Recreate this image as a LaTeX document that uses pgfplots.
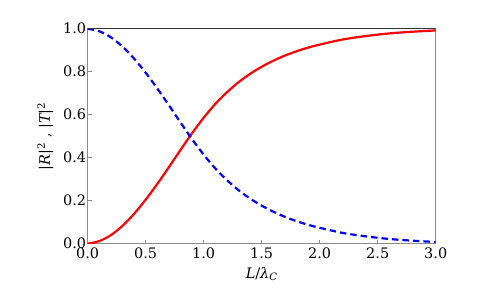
\documentclass[border=0pt]{standalone}
\usepackage{fontspec}
\setmainfont{DejaVu Serif}
\usepackage{pgfplots}
\pgfplotsset{compat=1.18}
\begin{document}
\begin{tikzpicture}[x=1bp,y=1bp]
\begin{axis}[
  at={(0,0)}, anchor=south west,
  scale only axis, width=348bp, height=215bp,
  xmin=0, xmax=3, ymin=0, ymax=1,
  xtick={0,0.5,...,3}, ytick={0,0.2,...,1},
  /pgf/number format/assume math mode=true,
  /pgf/number format/.cd, fixed, fixed zerofill, precision=1, /pgfplots/.cd,
  tick label style={font=\fontsize{14.5}{16}\selectfont},
  xticklabel style={yshift=-1bp},
  yticklabel style={xshift=2bp},
  tick align=inside, xtick pos=left, ytick pos=left,
  major tick length=4bp,
  tick style={draw=black!45, line width=0.8bp},
  axis line style={draw=black!45, line width=1bp},
  xlabel={{\itshape L}/{\itshape λ}\textsubscript{\itshape C}},
  ylabel={|{\itshape R}|\textsuperscript{2} , |{\itshape T}|\textsuperscript{2}},
  label style={font=\fontsize{14.5}{16}\selectfont},
  xlabel style={yshift=-1bp},
  ylabel style={yshift=3bp},
]
\addplot[red, line width=2.2bp, smooth, tension=0.5] coordinates {
(0.0,0.000) (0.1,0.012) (0.2,0.040) (0.3,0.083) (0.4,0.139) (0.5,0.205)
(0.6,0.278) (0.7,0.356) (0.8,0.436) (0.9,0.514) (1.0,0.586) (1.1,0.650)
(1.2,0.704) (1.3,0.751) (1.4,0.790) (1.5,0.823) (1.6,0.851) (1.7,0.875)
(1.8,0.895) (1.9,0.912) (2.0,0.926) (2.2,0.950) (2.4,0.966) (2.6,0.978)
(2.8,0.986) (3.0,0.992)
};
\addplot[blue, line width=2.2bp, dash pattern=on 6.5bp off 4bp, smooth, tension=0.5] coordinates {
(0.0,1.000) (0.1,0.988) (0.2,0.960) (0.3,0.917) (0.4,0.861) (0.5,0.795)
(0.6,0.722) (0.7,0.644) (0.8,0.564) (0.9,0.486) (1.0,0.414) (1.1,0.350)
(1.2,0.296) (1.3,0.249) (1.4,0.210) (1.5,0.177) (1.6,0.149) (1.7,0.125)
(1.8,0.105) (1.9,0.088) (2.0,0.074) (2.2,0.050) (2.4,0.034) (2.6,0.022)
(2.8,0.014) (3.0,0.008)
};
\draw[black!80, line width=1bp] (rel axis cs:0,1) -- (rel axis cs:1,1);
\end{axis}
\useasboundingbox (-87.7,-43.3) rectangle (410.3,243.7);
\end{tikzpicture}
\end{document}
